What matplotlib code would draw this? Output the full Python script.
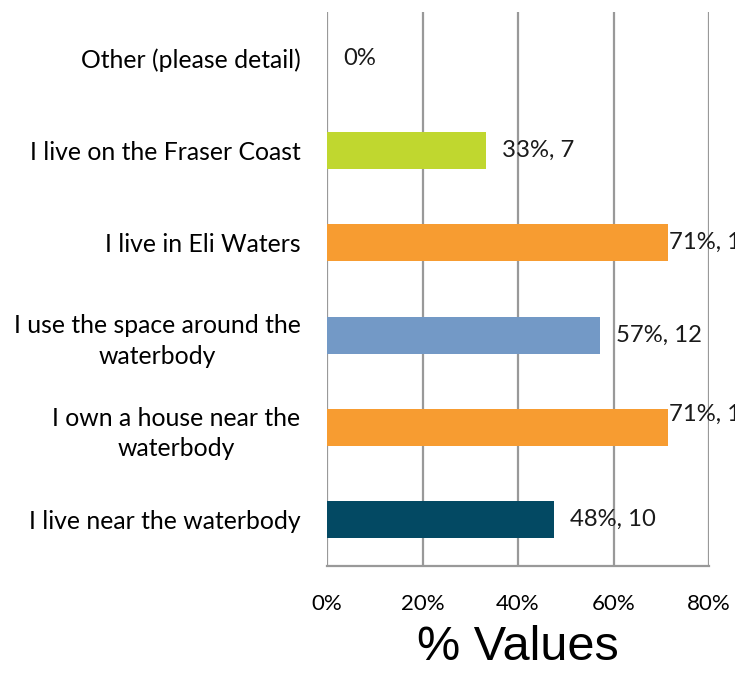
import matplotlib
matplotlib.use("Agg")
import matplotlib.pyplot as plt
from matplotlib.ticker import FuncFormatter

# Survey responses (n = 21), bottom to top
categories = [
    "I live near the waterbody",
    "I own a house near the\nwaterbody",
    "I use the space around the\nwaterbody",
    "I live in Eli Waters",
    "I live on the Fraser Coast",
    "Other (please detail)",
]
counts = [10, 15, 12, 15, 7, 0]
total = 21
colors = ["#034963", "#F79C31", "#7399C6", "#F79C31", "#C0D72F", "#FFFFFF"]
x_ticks = [0, 20, 40, 60, 80]

percents = [100.0 * c / total for c in counts]

plt.rcParams['font.family'] = ['Lato', 'DejaVu Sans']

fig = plt.figure(figsize=(7.35, 6.73), dpi=100)
ax = fig.add_axes([327 / 735, 1 - 566 / 673, 382 / 735, 554 / 673])

ypos = range(len(categories))
ax.barh(ypos, percents, height=0.4, color=colors, zorder=3)

ax.set_xlim(0, 80)
ax.set_ylim(-0.5, len(categories) - 0.5)
ax.set_xticks(x_ticks)
ax.xaxis.set_major_formatter(FuncFormatter(lambda v, p: f"{v:.0f}%"))
ax.set_yticks(list(ypos))
ax.set_yticklabels(categories, multialignment="center", linespacing=1.4)
ax.tick_params(axis="y", length=0, pad=19, labelsize=17.8)
ax.tick_params(axis="x", length=0, pad=20, labelsize=16)

ax.grid(axis="x", color="#999999", linewidth=1.6, zorder=0)
for side in ["top", "right", "left"]:
    ax.spines[side].set_visible(False)
ax.spines["bottom"].set_color("#999999")
ax.spines["bottom"].set_linewidth(1.6)

# data labels: "pct%, count"; long bars get the label at the bar end
for y, p, c in zip(ypos, percents, counts):
    txt = f"{p:.0f}%" if c == 0 else f"{p:.0f}%, {c}"
    dx = 0.2 if p > 65 else 3.3
    dy = 0.14 if y == 1 else 0.0
    ax.text(p + dx, y + dy, txt, va="center", ha="left", fontsize=17.2,
            color="#1a1a1a", zorder=4, clip_on=False)

ax.set_xlabel("% Values", fontsize=35, family=["Liberation Sans", "DejaVu Sans"],
              labelpad=8)

fig.savefig("out.png", dpi=100, facecolor="white")
